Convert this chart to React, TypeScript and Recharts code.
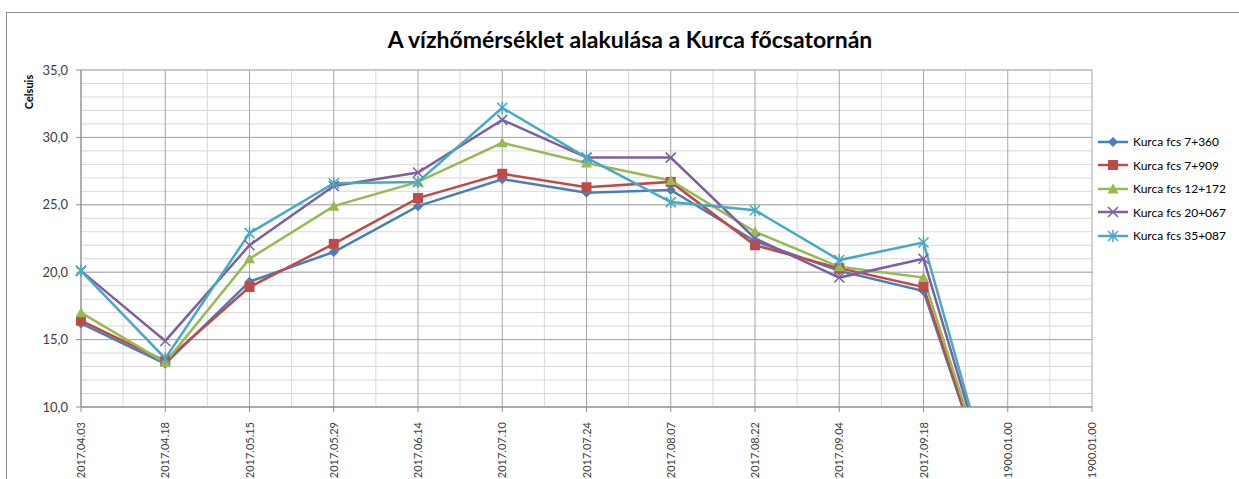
import { CartesianGrid, Label, Legend, Line, LineChart, XAxis, YAxis } from "recharts";

const dates = [
  "2017.04.03",
  "2017.04.18",
  "2017.05.15",
  "2017.05.29",
  "2017.06.14",
  "2017.07.10",
  "2017.07.24",
  "2017.08.07",
  "2017.08.22",
  "2017.09.04",
  "2017.09.18",
  "1900.01.00",
  "1900.01.00",
];

const fcs7360 = [16.2, 13.2, 19.3, 21.5, 24.9, 26.9, 25.9, 26.1, 22.3, 20.1, 18.6, 0, null];
const fcs7909 = [16.4, 13.4, 18.9, 22.1, 25.5, 27.3, 26.3, 26.7, 22.0, 20.3, 18.9, 0, null];
const fcs12172 = [17.0, 13.3, 21.0, 24.9, 26.7, 29.6, 28.1, 26.8, 23.0, 20.4, 19.6, 0, null];
const fcs20067 = [20.1, 14.9, 22.0, 26.4, 27.4, 31.3, 28.5, 28.5, 22.5, 19.6, 21.0, 0, null];
const fcs35087 = [20.1, 13.6, 22.9, 26.6, 26.7, 32.2, 28.5, 25.2, 24.6, 20.9, 22.2, 0, null];

const yTicks = [10, 15, 20, 25, 30, 35];
const yMinor = [
  10, 11, 12, 13, 14, 15, 16, 17, 18, 19, 20, 21, 22, 23, 24, 25, 26, 27, 28, 29, 30, 31,
  32, 33, 34, 35,
];

const series = [
  { key: "s1", name: "Kurca fcs 7+360", color: "#4A7EBB", shape: "diamond", values: fcs7360 },
  { key: "s2", name: "Kurca fcs 7+909", color: "#BE4B48", shape: "square", values: fcs7909 },
  { key: "s3", name: "Kurca fcs 12+172", color: "#98B954", shape: "triangle", values: fcs12172 },
  { key: "s4", name: "Kurca fcs 20+067", color: "#7D60A0", shape: "cross", values: fcs20067 },
  { key: "s5", name: "Kurca fcs 35+087", color: "#46AAC5", shape: "star", values: fcs35087 },
];

const data = dates.map((d, i) => {
  const row: Record<string, string | number | null> = { date: d };
  series.forEach((s) => {
    row[s.key] = s.values[i];
  });
  return row;
});

const FONT = "Lato, 'Open Sans', sans-serif";

function Marker({ cx, cy, shape, color }: { cx: number; cy: number; shape: string; color: string }) {
  if (cx == null || cy == null || isNaN(cx) || isNaN(cy)) return null;
  switch (shape) {
    case "diamond":
      return (
        <path
          d={`M${cx},${cy - 5}L${cx + 5},${cy}L${cx},${cy + 5}L${cx - 5},${cy}Z`}
          fill={color}
        />
      );
    case "square":
      return <rect x={cx - 5} y={cy - 5} width={10} height={10} fill={color} />;
    case "triangle":
      return (
        <path d={`M${cx},${cy - 5.5}L${cx + 5.5},${cy + 4.5}L${cx - 5.5},${cy + 4.5}Z`} fill={color} />
      );
    case "cross":
      return (
        <path
          d={`M${cx - 5},${cy - 5}L${cx + 5},${cy + 5}M${cx + 5},${cy - 5}L${cx - 5},${cy + 5}`}
          stroke={color}
          strokeWidth={1.5}
        />
      );
    default:
      return (
        <path
          d={`M${cx - 5},${cy - 5}L${cx + 5},${cy + 5}M${cx + 5},${cy - 5}L${cx - 5},${cy + 5}M${cx},${cy - 6}L${cx},${cy + 6}`}
          stroke={color}
          strokeWidth={1.5}
        />
      );
  }
}

function XTick({ x, y, payload }: any) {
  return (
    <text
      x={x}
      y={y}
      transform={`rotate(-90, ${x}, ${y})`}
      dx={-8}
      dy={4}
      textAnchor="end"
      fontSize={11}
      fill="#404040"
      fontFamily={FONT}
    >
      {payload.value}
    </text>
  );
}

function LegendBox() {
  return (
    <div style={{ fontFamily: FONT, fontSize: 12, color: "#000", whiteSpace: "nowrap" }}>
      {series.map((s) => (
        <div key={s.key} style={{ display: "flex", alignItems: "center", height: 23.5 }}>
          <svg width={34} height={12} style={{ marginRight: 3, flexShrink: 0 }}>
            <line x1={2} y1={6} x2={32} y2={6} stroke={s.color} strokeWidth={2.5} />
            <Marker cx={17} cy={6} shape={s.shape} color={s.color} />
          </svg>
          <span>{s.name}</span>
        </div>
      ))}
    </div>
  );
}

export default function App() {
  return (
    <div
      style={{
        position: "absolute",
        left: 0,
        top: 0,
        width: 1239,
        height: 479,
        background: "#fff",
        overflow: "hidden",
      }}
    >
      <div
        style={{
          position: "absolute",
          left: 6,
          top: 12,
          width: 1260,
          height: 500,
          border: "1px solid #8c8c8c",
        }}
      />
      <div
        style={{
          position: "absolute",
          left: 280,
          width: 700,
          top: 25,
          textAlign: "center",
          fontFamily: FONT,
          fontWeight: 700,
          fontSize: 23,
          color: "#000",
        }}
      >
        A vízhőmérséklet alakulása a Kurca főcsatornán
      </div>
      <div style={{ position: "absolute", left: 0, top: 0 }}>
        <LineChart
          width={1239}
          height={479}
          data={data}
          margin={{ top: 70, right: 7, left: 0, bottom: 0 }}
        >
          <CartesianGrid
            stroke="#d9d9d9"
            strokeWidth={1}
            horizontalCoordinatesGenerator={({ offset }: any) =>
              yMinor.map((v) => offset.top + (offset.height * (35 - v)) / 25)
            }
            verticalCoordinatesGenerator={({ offset }: any) =>
              dates.slice(1).map((_, i) => offset.left + (offset.width * (i + 0.5)) / (dates.length - 1))
            }
          />
          <CartesianGrid stroke="#a6a6a6" strokeWidth={1} />
          <XAxis
            dataKey="date"
            interval={0}
            height={72}
            tick={<XTick />}
            tickSize={5}
            stroke="#8c8c8c"
            padding={{ left: 0, right: 0 }}
          />
          <YAxis
            domain={[10, 35]}
            ticks={yTicks}
            allowDataOverflow
            width={81}
            tickSize={5}
            tickMargin={8}
            stroke="#8c8c8c"
            tickFormatter={(v: number) => v.toFixed(1).replace(".", ",")}
            tick={{ fontSize: 13, fill: "#404040", fontFamily: FONT }}
          >
            <Label
              content={() => (
                <text
                  x={33}
                  y={92}
                  transform="rotate(-90, 33, 92)"
                  textAnchor="middle"
                  fontSize={11}
                  fontWeight={700}
                  fontFamily={FONT}
                  fill="#000"
                >
                  Celsuis
                </text>
              )}
            />
          </YAxis>
          <Legend
            layout="vertical"
            align="right"
            verticalAlign="top"
            wrapperStyle={{ width: 140, left: 1096, top: 130 }}
            content={() => <LegendBox />}
          />
          {series.map((s) => (
            <Line
              key={s.key}
              dataKey={s.key}
              name={s.name}
              stroke={s.color}
              strokeWidth={2.5}
              type="linear"
              isAnimationActive={false}
              dot={(p: any) => <Marker key={`${s.key}-${p.index}`} cx={p.cx} cy={p.cy} shape={s.shape} color={s.color} />}
              activeDot={false}
            />
          ))}
        </LineChart>
      </div>
    </div>
  );
}
